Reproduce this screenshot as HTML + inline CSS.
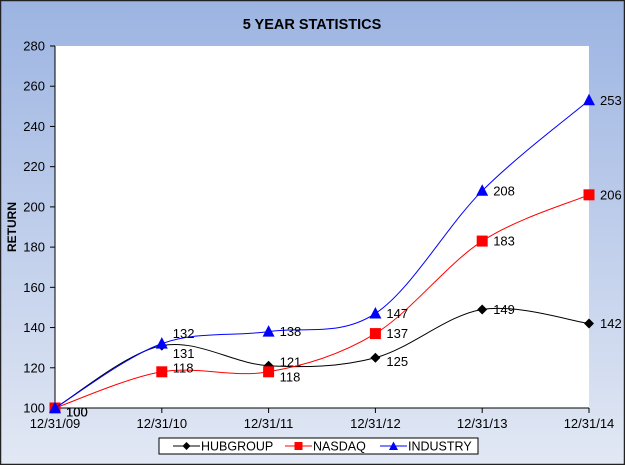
<!DOCTYPE html>
<html><head><meta charset="utf-8"><style>
html,body{margin:0;padding:0;}
body{width:625px;height:465px;overflow:hidden;font-family:"Liberation Sans",Arial,sans-serif;}
svg text{font-family:"Liberation Sans",Arial,sans-serif;}
</style></head><body>
<svg id="chart" width="625" height="465" viewBox="0 0 625 465" xmlns="http://www.w3.org/2000/svg">
<defs><linearGradient id="bg" x1="0" y1="0" x2="0" y2="1">
<stop offset="0" stop-color="#9cb4e2"/><stop offset="1" stop-color="#e2e8f4"/></linearGradient></defs>
<rect x="0.5" y="0.5" width="624" height="464" fill="url(#bg)" stroke="#222" stroke-width="1.5"/>
<text x="312" y="29" text-anchor="middle" font-size="14.5" font-weight="bold" fill="#000">5 YEAR STATISTICS</text>
<rect x="55" y="46" width="534" height="362" fill="#fff"/>
<text transform="translate(16,227) rotate(-90)" text-anchor="middle" font-size="12" font-weight="bold">RETURN</text>
<g id="axes"></g>
<g id="series"></g>
<g>
<rect x="159" y="438" width="319" height="16" fill="#fff" stroke="#000" stroke-width="1"/>
<line x1="173" y1="446" x2="200" y2="446" stroke="#000"/><path d="M186.5 442 L190.5 446 L186.5 450 L182.5 446Z" fill="#000"/>
<text x="201" y="450.5" font-size="12.5">HUBGROUP</text>
<line x1="285" y1="446" x2="312" y2="446" stroke="#f00"/><rect x="294.5" y="442" width="8" height="8" fill="#f00"/>
<text x="313" y="450.5" font-size="12.5">NASDAQ</text>
<line x1="380" y1="446" x2="407" y2="446" stroke="#00f"/><path d="M393.5 441.5 L398 450 L389 450Z" fill="#00f"/>
<text x="408" y="450.5" font-size="12.5">INDUSTRY</text>
</g>
</svg>
<script>
const categories = ["12/31/09","12/31/10","12/31/11","12/31/12","12/31/13","12/31/14"];
const hubgroup = [100,131,121,125,149,142];
const nasdaq = [100,118,118,137,183,206];
const industry = [100,132,138,147,208,253];
const yTicks = [100,120,140,160,180,200,220,240,260,280];
const hubLabelDy = [4,8,-4,4,0,0];
const nasLabelDy = [4,-4,5,0,0,0];
const indLabelDy = [4,-10,0,0,0,0];

const NS="http://www.w3.org/2000/svg";
const X0=55,X1=589,Y0=408,Y1=46,YMIN=100,YMAX=280;
function xs(i){return X0+i*(X1-X0)/(categories.length-1);}
function ys(v){return Y0-(v-YMIN)*(Y0-Y1)/(YMAX-YMIN);}
function mk(tag,attrs,parent){const e=document.createElementNS(NS,tag);for(const k in attrs)e.setAttribute(k,attrs[k]);parent.appendChild(e);return e;}
const axes=document.getElementById('axes');
mk('line',{x1:X0,y1:Y1,x2:X0,y2:Y0,stroke:'#000','stroke-width':1},axes);
mk('line',{x1:X0,y1:Y0,x2:X1,y2:Y0,stroke:'#000','stroke-width':1},axes);
yTicks.forEach(t=>{
  const y=ys(t);
  mk('line',{x1:X0-5,y1:y,x2:X0,y2:y,stroke:'#000'},axes);
  const tx=mk('text',{x:X0-10,y:y+4.5,'text-anchor':'end','font-size':13},axes);
  
  
  tx.textContent=t;
});
categories.forEach((c,i)=>{
  const x=xs(i);
  mk('line',{x1:x,y1:Y0,x2:x,y2:Y0+5,stroke:'#000'},axes);
  const tx=mk('text',{x:x,y:Y0+20,'text-anchor':'middle','font-size':13},axes);
  
  
  tx.textContent=c;
});
function smooth(pts){
  let d=`M${pts[0][0]},${pts[0][1]}`;
  for(let i=0;i<pts.length-1;i++){
    const p0=pts[i-1]||pts[i],p1=pts[i],p2=pts[i+1],p3=pts[i+2]||p2;
    const t=1/6;
    const c1=[p1[0]+(p2[0]-p0[0])*t,p1[1]+(p2[1]-p0[1])*t];
    const c2=[p2[0]-(p3[0]-p1[0])*t,p2[1]-(p3[1]-p1[1])*t];
    d+=` C${c1[0]},${c1[1]} ${c2[0]},${c2[1]} ${p2[0]},${p2[1]}`;
  }
  return d;
}
const series=document.getElementById('series');
function draw(vals,color,shape,name,dys){
  const g=mk('g',{},series);
  
  
  const pts=vals.map((v,i)=>[xs(i),ys(v)]);
  mk('path',{d:smooth(pts),fill:'none',stroke:color,'stroke-width':1},g);
  pts.forEach((p,i)=>{
    let m;
    if(shape==='diamond')m=mk('path',{d:`M${p[0]},${p[1]-5} L${p[0]+5},${p[1]} L${p[0]},${p[1]+5} L${p[0]-5},${p[1]}Z`,fill:color},g);
    else if(shape==='square')m=mk('rect',{x:p[0]-5.5,y:p[1]-5.5,width:11,height:11,fill:color},g);
    else m=mk('path',{d:`M${p[0]},${p[1]-6.5} L${p[0]+6},${p[1]+5} L${p[0]-6},${p[1]+5}Z`,fill:color},g);
    
    
    const t=mk('text',{x:p[0]+11,y:p[1]+4.5+dys[i],'font-size':13,fill:'#000'},g);
    
    
    t.textContent=vals[i];
  });
}
draw(hubgroup,'#000','diamond','hubgroup',hubLabelDy);
draw(nasdaq,'#f00','square','nasdaq',nasLabelDy);
draw(industry,'#00f','triangle','industry',indLabelDy);
</script>
</body></html>
